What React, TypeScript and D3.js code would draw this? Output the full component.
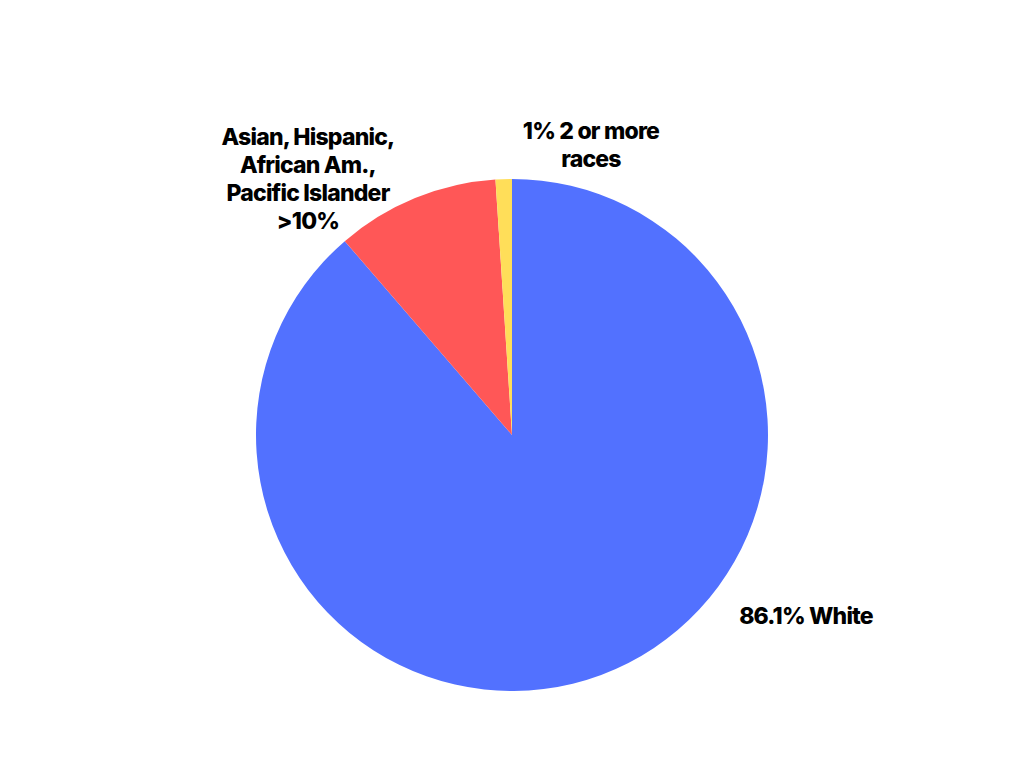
import React from "react";
import * as d3 from "d3";

const categories = ["White", "Asian, Hispanic, African Am., Pacific Islander", "2 or more races"];
const values = [86.1, 10, 1];
const colors = ["#5271FF", "#FF5757", "#FFDE59"];
const labelLines = [
  ["86.1% White"],
  ["Asian, Hispanic,", "African Am.,", "Pacific Islander", ">10%"],
  ["1% 2 or more", "races"],
];
const labelPos = [
  { x: 806, y: 624 },
  { x: 308, y: 145 },
  { x: 591, y: 139 },
];

export default function App() {
  const width = 1024;
  const height = 768;
  const cx = 512;
  const cy = 435;
  const r = 256;
  const pie = d3.pie<number>().sort(null).value((d) => d)(values);
  const arc = d3.arc<d3.PieArcDatum<number>>().innerRadius(0).outerRadius(r);
  return (
    <svg
      width={width}
      height={height}
      style={{ position: "absolute", left: 0, top: 0, background: "#fff" }}
    >
      <rect width={width} height={height} fill="#fff" />
      <g transform={`translate(${cx},${cy})`}>
        {pie.map((p, i) => (
          <path key={categories[i]} d={arc(p) || ""} fill={colors[i]} />
        ))}
      </g>
      {labelLines.map((lines, i) => (
        <text
          key={i}
          x={labelPos[i].x}
          y={labelPos[i].y}
          textAnchor="middle"
          fontFamily="Inter, 'Open Sans', sans-serif"
          fontWeight={800}
          fontSize={23}
          letterSpacing={-0.8}
          fill="#000"
        >
          {lines.map((l, j) => (
            <tspan key={j} x={labelPos[i].x} dy={j === 0 ? 0 : 28}>
              {l}
            </tspan>
          ))}
        </text>
      ))}
    </svg>
  );
}
